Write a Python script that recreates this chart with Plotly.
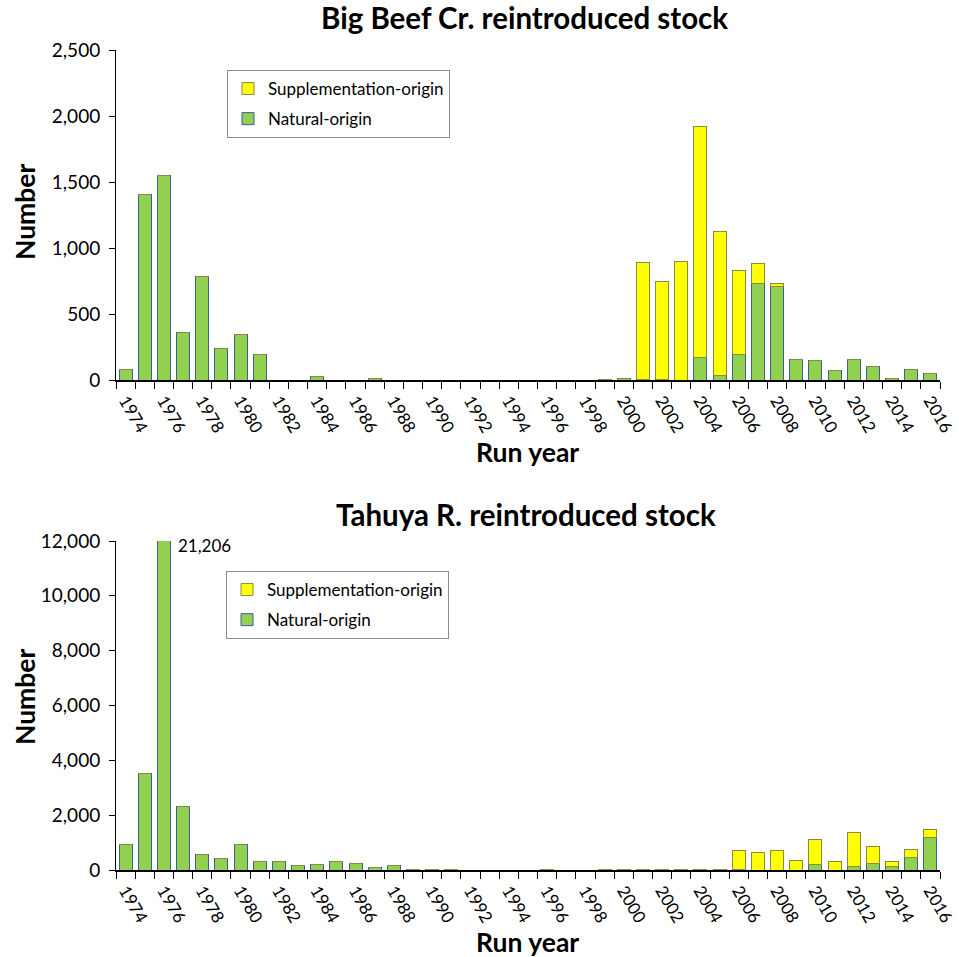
import plotly.graph_objects as go

years = list(range(1974, 2017))

# Big Beef Cr. (top)
bb_natural = [83, 1406, 1550, 359, 785, 240, 341, 197, 0, 0,
              28, 0, 0, 8, 0, 0, 0, 0, 0, 0,
              0, 0, 0, 0, 0, 0, 15, 3, 3, 0,
              170, 33, 197, 734, 708, 154, 144, 71, 154, 99,
              10, 81, 53]
bb_supp = [0, 0, 0, 0, 0, 0, 0, 0, 0, 0,
           0, 0, 0, 0, 0, 0, 0, 0, 0, 0,
           0, 0, 0, 0, 0, 6, 0, 887, 741, 900,
           1753, 1095, 630, 146, 26, 0, 0, 0, 0, 0,
           0, 0, 0]

# Tahuya R. (bottom)
ta_natural = [948, 3523, 21206, 2308, 559, 413, 948, 328, 328, 158,
              207, 328, 255, 109, 158, 36, 36, 36, 0, 0,
              0, 0, 25, 0, 0, 25, 10, 0, 0, 0,
              25, 25, 10, 0, 0, 0, 194, 0, 146, 231,
              146, 450, 1203]
ta_supp = [0, 0, 0, 0, 0, 0, 0, 0, 0, 0,
           0, 0, 0, 0, 0, 0, 0, 0, 0, 0,
           0, 0, 0, 0, 0, 0, 15, 25, 25, 25,
           0, 0, 719, 632, 729, 340, 924, 292, 1239, 619,
           146, 315, 267]

label_years = list(range(1974, 2017, 2))
peak_label = "21,206"

FONT = "Lato"
GREEN = "#92D050"
GREEN_LINE = "#3A5F9A"
YELLOW = "#FFFF00"
YELLOW_LINE = "#8A8A48"

fig = go.Figure()


def add_pair(nat, sup, xa, ya, legend):
    fig.add_trace(go.Bar(x=years, y=nat, name="Natural-origin", xaxis=xa, yaxis=ya,
                         marker=dict(color=GREEN, line=dict(color=GREEN_LINE, width=1)),
                         legend=legend, legendgroup=legend + "n", legendrank=2, hoverinfo="x+y"))
    fig.add_trace(go.Bar(x=years, y=sup, name="Supplementation-origin", xaxis=xa, yaxis=ya,
                         marker=dict(color=YELLOW, line=dict(color=YELLOW_LINE, width=1)),
                         legend=legend, legendgroup=legend + "s", legendrank=1, hoverinfo="x+y"))


add_pair(bb_natural, bb_supp, "x", "y", "legend")
add_pair(ta_natural, ta_supp, "x2", "y2", "legend2")

W, H = 959, 957
xl, xr = 116 / W, 940 / W


def py(p):
    return 1 - p / H


xaxis_common = dict(
    range=[1973.5, 2016.5], tickmode="array", tickvals=label_years,
    ticktext=[str(y) for y in label_years], tickangle=60,
    ticks="outside", ticklen=2, tickcolor="rgba(0,0,0,0)",
    showline=True, linecolor="black", linewidth=2, showgrid=False, zeroline=False,
    tickfont=dict(family=FONT, size=17, color="black"), automargin=False,
    ticklabeloverflow="allow",
    minor=dict(tickmode="linear", tick0=1973.5, dtick=1, ticks="outside",
               ticklen=7, tickcolor="black", tickwidth=1, showgrid=False),
)
yaxis_common = dict(
    showline=True, linecolor="black", linewidth=1, showgrid=False, zeroline=False,
    ticks="outside", ticklen=6, tickcolor="black", tickformat=",", automargin=False,
    ticklabelstandoff=5,
    tickfont=dict(family=FONT, size=19, color="black"),
)

legend_common = dict(xanchor="left", yanchor="top", traceorder="grouped",
                     bordercolor="#8C8C8C", borderwidth=1, bgcolor="white", tracegroupgap=5,
                     font=dict(family=FONT, size=17, color="black"))

fig.update_layout(
    width=W, height=H, margin=dict(l=0, r=0, t=0, b=0, autoexpand=False),
    paper_bgcolor="white", plot_bgcolor="white",
    barmode="stack", bargap=0.32,
    font=dict(family=FONT, color="black"),
    xaxis=dict(domain=[xl, xr], anchor="y", **xaxis_common),
    yaxis=dict(domain=[py(380), py(50)], anchor="x", range=[0, 2500], dtick=500, **yaxis_common),
    xaxis2=dict(domain=[xl, xr], anchor="y2", **xaxis_common),
    yaxis2=dict(domain=[py(870), py(541)], anchor="x2", range=[0, 12000], dtick=2000, **yaxis_common),
    legend=dict(x=227 / W, y=py(70), **legend_common),
    legend2=dict(x=226 / W, y=py(571), **legend_common),
    showlegend=True,
)

ann_font_title = dict(family=FONT, size=29.5, color="black")
ann_font_axis = dict(family=FONT, size=26.5, color="black")
annotations = [
    dict(text="<b>Big Beef Cr. reintroduced stock</b>", x=524 / W, y=py(18), font=ann_font_title),
    dict(text="<b>Tahuya R. reintroduced stock</b>", x=526 / W, y=py(514), font=ann_font_title),
    dict(text="<b>Run year</b>", x=527 / W, y=py(452), font=ann_font_axis),
    dict(text="<b>Run year</b>", x=527 / W, y=py(942), font=ann_font_axis),
    dict(text="<b>Number</b>", x=25 / W, y=py(212), textangle=-90, font=ann_font_axis),
    dict(text="<b>Number</b>", x=25 / W, y=py(697), textangle=-90, font=ann_font_axis),
]
for a in annotations:
    a.update(xref="paper", yref="paper", showarrow=False, xanchor="center", yanchor="middle")
fig.update_layout(annotations=annotations)
fig.add_annotation(text=peak_label, x=1976, y=12000, xref="x2", yref="y2", showarrow=False,
                   xanchor="left", yanchor="middle", xshift=12, yshift=-4,
                   font=dict(family=FONT, size=17, color="black"))

fig.write_html("out.html", config={"displayModeBar": False},
               post_script="document.body.style.margin='0px';document.body.style.overflow='hidden';")
